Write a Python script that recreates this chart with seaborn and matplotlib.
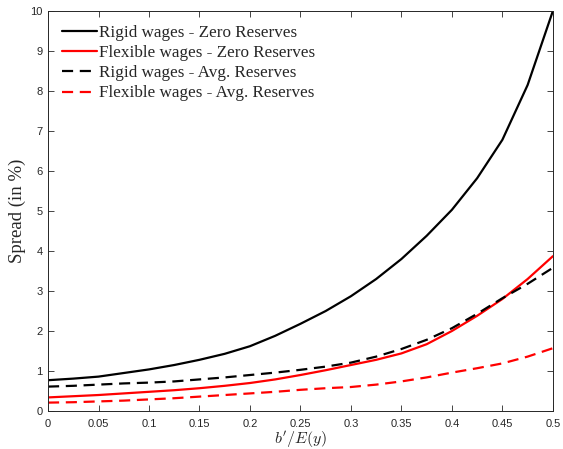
import numpy as np
import pandas as pd
import seaborn as sns
import matplotlib.pyplot as plt

# share of b'/E(y)
ratio = [0.0, 0.025, 0.05, 0.075, 0.1, 0.125, 0.15, 0.175, 0.2, 0.225, 0.25,
         0.275, 0.3, 0.325, 0.35, 0.375, 0.4, 0.425, 0.45, 0.475, 0.5]

# spreads in percent
rigid_zero = [0.77, 0.81, 0.86, 0.95, 1.04, 1.15, 1.28, 1.43, 1.62, 1.88, 2.18,
              2.50, 2.87, 3.30, 3.80, 4.38, 5.03, 5.82, 6.78, 8.15, 10.0]
flex_zero = [0.34, 0.37, 0.40, 0.44, 0.48, 0.52, 0.57, 0.63, 0.70, 0.79, 0.90,
             1.02, 1.15, 1.28, 1.44, 1.67, 2.00, 2.38, 2.80, 3.30, 3.87]
rigid_avg = [0.61, 0.63, 0.66, 0.69, 0.71, 0.74, 0.79, 0.84, 0.90, 0.96, 1.03,
             1.11, 1.21, 1.36, 1.55, 1.78, 2.07, 2.43, 2.82, 3.18, 3.58]
flex_avg = [0.21, 0.22, 0.24, 0.26, 0.29, 0.32, 0.36, 0.40, 0.44, 0.48, 0.53,
            0.57, 0.60, 0.66, 0.74, 0.84, 0.96, 1.07, 1.19, 1.36, 1.57]

labels = ["Rigid wages - Zero Reserves", "Flexible wages - Zero Reserves",
          "Rigid wages - Avg. Reserves", "Flexible wages - Avg. Reserves"]

sns.set_style("ticks")
plt.rcParams["font.family"] = ["Liberation Sans", "DejaVu Sans"]
plt.rcParams["mathtext.fontset"] = "cm"

fig = plt.figure(figsize=(5.63, 4.49), dpi=100)
ax = fig.add_axes([0.0853, 0.0846, 0.8967, 0.8909])

series = [(rigid_zero, "black", "-"), (flex_zero, "red", "-"),
          (rigid_avg, "black", "--"), (flex_avg, "red", "--")]
for (vals, col, ls), lab in zip(series, labels):
    df = pd.DataFrame({"x": ratio, "y": vals})
    sns.lineplot(data=df, x="x", y="y", ax=ax, color=col, lw=1.6, label=lab)
    if ls == "--":
        ax.lines[-1].set_dashes((5, 3))

ax.set_xlim(0, 0.5)
ax.set_ylim(0, 10)
ax.set_xticks(np.arange(0, 0.501, 0.05))
ax.set_xticklabels(["0", "0.05", "0.1", "0.15", "0.2", "0.25", "0.3", "0.35",
                    "0.4", "0.45", "0.5"])
ax.set_yticks(range(0, 11))
ax.tick_params(direction="in", length=4, width=0.6, top=True, right=True,
               labelsize=8, colors="#262626", pad=4)
ax.tick_params(axis="x", pad=6)
for s in ax.spines.values():
    s.set_visible(True)
    s.set_linewidth(0.7)
    s.set_color("#262626")

ax.set_xlabel(r"$b'/E(y)$", fontsize=11.5, labelpad=0)
ax.set_ylabel("Spread (in %)", fontsize=13.5, family="Liberation Serif",
              labelpad=3)

ax.legend(loc="upper left", frameon=False, handlelength=2.05,
          handletextpad=0.15, labelspacing=0.25, borderaxespad=0.4,
          prop={"family": "Liberation Serif", "size": 12.3})

fig.savefig("out.png", dpi=100)
